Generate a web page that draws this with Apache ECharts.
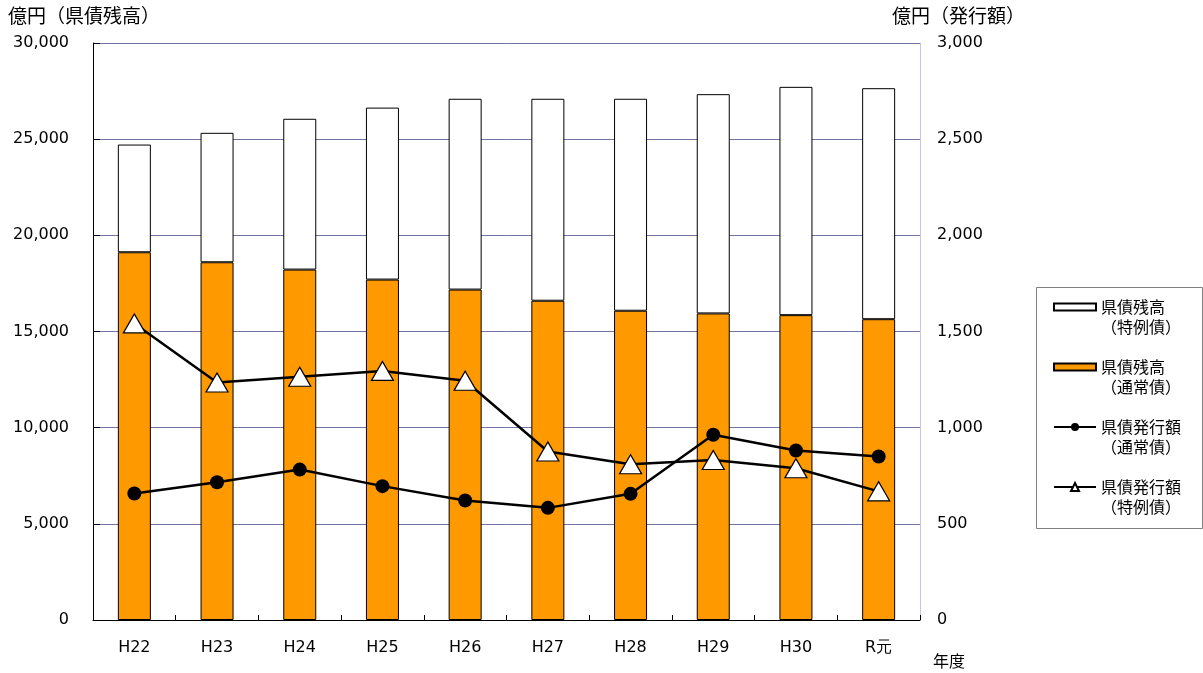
<!DOCTYPE html>
<html>
<head>
<meta charset="utf-8">
<script src="https://cdn.jsdelivr.net/npm/echarts@6/dist/echarts.min.js"></script>
<style>
  html, body { margin: 0; padding: 0; background: #fff; }
  #chart { width: 1203px; height: 673px; }
</style>
</head>
<body>
<div id="chart"></div>
<script>
// 年度
const categories = ['H22', 'H23', 'H24', 'H25', 'H26', 'H27', 'H28', 'H29', 'H30', 'R元'];

// 県債残高（億円）
const balanceOrdinary = [19120, 18600, 18220, 17700, 17180, 16600, 16080, 15940, 15850, 15640];
const balanceSpecial  = [5600, 6730, 7840, 8940, 9920, 10500, 11020, 11400, 11870, 12010];

// 県債発行額（億円）
const issueOrdinary = [658, 716, 782, 696, 621, 583, 656, 963, 881, 850];
const issueSpecial  = [1542, 1235, 1265, 1295, 1244, 876, 810, 832, 789, 669];

// 軸の目盛
const balanceTicks = [0, 5000, 10000, 15000, 20000, 25000, 30000];
const issueTicks   = [0, 500, 1000, 1500, 2000, 2500, 3000];

const seriesNames = [
  '県債残高\n（特例債）',
  '県債残高\n（通常債）',
  '県債発行額\n（通常債）',
  '県債発行額\n（特例債）'
];

const numFont = 'DejaVu Sans';
const jpFont = '"Noto Sans CJK JP", sans-serif';
const fmt = v => v.toLocaleString('en-US');

const chart = echarts.init(document.getElementById('chart'), null, { renderer: 'canvas' });

chart.setOption({
  animation: false,
  backgroundColor: '#fff',
  grid: { left: 93, right: 283, top: 43, bottom: 53 },
  xAxis: {
    type: 'category',
    data: categories,
    boundaryGap: true,
    axisLine: { lineStyle: { color: '#000', width: 1 } },
    axisTick: { show: true, inside: true, length: 5, lineStyle: { color: '#000' } },
    axisLabel: { color: '#000', fontFamily: numFont, fontSize: 16, margin: 20 }
  },
  yAxis: [
    {
      type: 'value',
      min: balanceTicks[0],
      max: balanceTicks[balanceTicks.length - 1],
      interval: balanceTicks[1] - balanceTicks[0],
      axisLine: { show: true, lineStyle: { color: '#000', width: 1 } },
      axisTick: { show: true, inside: true, length: 7, lineStyle: { color: '#000' } },
      splitLine: { show: true, lineStyle: { color: '#7272A8', width: 1 } },
      axisLabel: { color: '#000', fontFamily: numFont, fontSize: 16, margin: 24,
                   padding: [5, 0, 0, 0], formatter: fmt }
    },
    {
      type: 'value',
      position: 'right',
      min: issueTicks[0],
      max: issueTicks[issueTicks.length - 1],
      interval: issueTicks[1] - issueTicks[0],
      axisLine: { show: true, lineStyle: { color: '#C4C4EE', width: 1 } },
      axisTick: { show: false },
      splitLine: { show: false },
      axisLabel: { color: '#000', fontFamily: numFont, fontSize: 16, margin: 17,
                   padding: [3, 0, 0, 0], formatter: fmt }
    }
  ],
  legend: {
    orient: 'vertical',
    left: 1053,
    top: 277,
    padding: 0,
    itemGap: 0,
    itemWidth: 42,
    itemHeight: 10,
    selectedMode: false,
    data: [
      { name: seriesNames[0], icon: 'path://M0,0H42V7H0Z' },
      { name: seriesNames[1], icon: 'path://M0,0H42V7H0Z' },
      { name: seriesNames[2] },
      { name: seriesNames[3] }
    ],
    // a leading blank line keeps the icon level with the first text line
    formatter: name => '\n' + name,
    textStyle: { color: '#000', fontFamily: jpFont, fontSize: 16, lineHeight: 20 }
  },
  graphic: [
    { type: 'rect', left: 1034, top: 285, z: 0, silent: true,
      shape: { width: 166, height: 241 },
      style: { fill: 'none', stroke: '#808080', lineWidth: 1 } },
    { type: 'text', left: 8, top: 6,
      style: { text: '億円（県債残高）', font: '19px "Noto Sans CJK JP"', fill: '#000' } },
    { type: 'text', left: 892, top: 6,
      style: { text: '億円（発行額）', font: '19px "Noto Sans CJK JP"', fill: '#000' } },
    { type: 'text', left: 933, top: 653,
      style: { text: '年度', font: '16px "Noto Sans CJK JP"', fill: '#000' } }
  ],
  series: [
    {
      name: seriesNames[1],
      type: 'bar',
      stack: 'balance',
      barWidth: 33,
      data: balanceOrdinary,
      itemStyle: { color: '#FF9900', borderColor: '#000', borderWidth: 1 }
    },
    {
      name: seriesNames[0],
      type: 'bar',
      stack: 'balance',
      barWidth: 33,
      data: balanceSpecial,
      itemStyle: { color: '#FFFFFF', borderColor: '#000', borderWidth: 1 }
    },
    {
      name: seriesNames[2],
      type: 'line',
      yAxisIndex: 1,
      data: issueOrdinary,
      symbol: 'circle',
      symbolSize: 14,
      z: 5,
      itemStyle: { color: '#000' },
      lineStyle: { color: '#000', width: 2.5 }
    },
    {
      name: seriesNames[3],
      type: 'line',
      yAxisIndex: 1,
      data: issueSpecial,
      symbol: 'triangle',
      symbolSize: [22, 19],
      z: 6,
      itemStyle: { color: '#FFFFFF', borderColor: '#000', borderWidth: 1.2 },
      lineStyle: { color: '#000', width: 2.5 }
    }
  ]
});
</script>
</body>
</html>
